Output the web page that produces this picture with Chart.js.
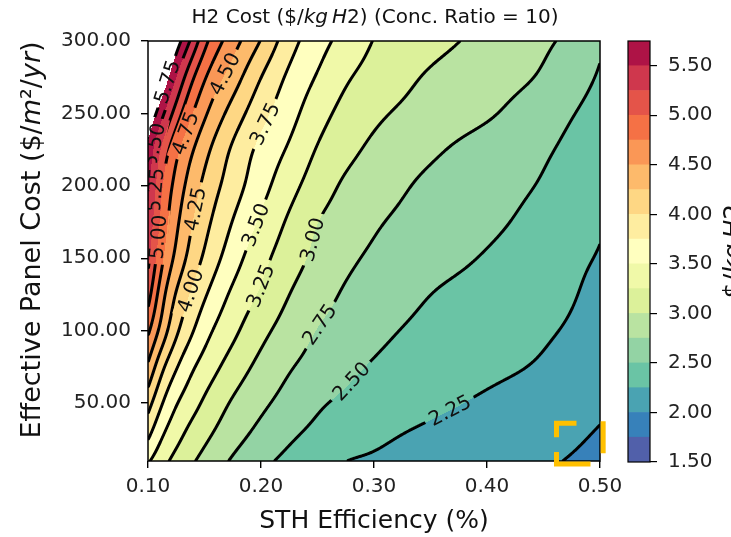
<!DOCTYPE html>
<html>
<head>
<meta charset="utf-8">
<script src="https://cdn.jsdelivr.net/npm/chart.js@4.4.1/dist/chart.umd.min.js"></script>
<style>
  html, body { margin: 0; padding: 0; background: #fff; }
  #wrap { position: relative; width: 731px; height: 537px; overflow: hidden; }
  #main { position: absolute; left: 0; top: 0; }
  #cbar { position: absolute; left: 600px; top: 0; }
</style>
</head>
<body>
<div id="wrap">
  <canvas id="main" width="731" height="537"></canvas>
  <canvas id="cbar" width="131" height="537"></canvas>
</div>
<script>
// grid the cost surface was read on (STH efficiency x panel cost)
const effGrid = [0.10, 0.1125, 0.125, 0.1375, 0.15, 0.175, 0.20, 0.225, 0.25, 0.275, 0.30, 0.35, 0.40, 0.45, 0.475, 0.50];
const costGrid = [10, 30, 50, 75, 100, 125, 150, 175, 200, 225, 250, 275, 300];
// H2 cost in $/kg, one row per panel cost value
const h2Cost = [
  [3.53, 3.33, 3.17, 3.04, 2.93, 2.72, 2.56, 2.44, 2.34, 2.25, 2.22, 2.15, 2.09, 2.02, 1.99, 1.95],
  [3.83, 3.53, 3.35, 3.19, 3.07, 2.86, 2.69, 2.55, 2.45, 2.38, 2.31, 2.21, 2.13, 2.06, 2.03, 1.99],
  [4.10, 3.75, 3.51, 3.36, 3.21, 2.97, 2.80, 2.66, 2.53, 2.46, 2.41, 2.31, 2.21, 2.12, 2.07, 2.03],
  [4.46, 4.04, 3.77, 3.55, 3.40, 3.14, 2.93, 2.77, 2.66, 2.55, 2.48, 2.40, 2.31, 2.22, 2.15, 2.08],
  [4.80, 4.39, 4.04, 3.80, 3.59, 3.31, 3.07, 2.89, 2.74, 2.65, 2.56, 2.44, 2.36, 2.28, 2.22, 2.12],
  [5.11, 4.57, 4.22, 3.98, 3.78, 3.45, 3.22, 3.00, 2.85, 2.72, 2.65, 2.50, 2.41, 2.32, 2.27, 2.17],
  [5.32, 4.77, 4.43, 4.17, 3.96, 3.61, 3.33, 3.11, 2.94, 2.80, 2.71, 2.59, 2.48, 2.36, 2.30, 2.235],
  [5.45, 4.89, 4.55, 4.28, 4.08, 3.74, 3.46, 3.21, 3.00, 2.89, 2.78, 2.66, 2.55, 2.42, 2.34, 2.27],
  [5.58, 4.99, 4.66, 4.40, 4.19, 3.87, 3.59, 3.34, 3.12, 2.96, 2.86, 2.70, 2.59, 2.48, 2.40, 2.32],
  [5.70, 5.18, 4.81, 4.55, 4.33, 3.96, 3.68, 3.47, 3.23, 3.07, 2.95, 2.79, 2.65, 2.53, 2.45, 2.37],
  [6.00, 5.56, 5.13, 4.79, 4.54, 4.15, 3.83, 3.59, 3.35, 3.17, 3.05, 2.90, 2.78, 2.61, 2.51, 2.43],
  [6.40, 5.98, 5.50, 5.08, 4.77, 4.38, 4.00, 3.70, 3.48, 3.28, 3.16, 2.97, 2.85, 2.72, 2.59, 2.48],
  [6.60, 6.27, 5.88, 5.49, 5.07, 4.61, 4.24, 3.85, 3.60, 3.41, 3.24, 3.08, 2.93, 2.79, 2.69, 2.53]
];
const levels = [1.50, 1.75, 2.00, 2.25, 2.50, 2.75, 3.00, 3.25, 3.50, 3.75, 4.00, 4.25, 4.50, 4.75, 5.00, 5.25, 5.50, 5.75];
const effTicks = [0.10, 0.20, 0.30, 0.40, 0.50];
const costTicks = [50, 100, 150, 200, 250, 300];
const cbarTicks = [1.50, 2.00, 2.50, 3.00, 3.50, 4.00, 4.50, 5.00, 5.50];
// where the inline contour labels sit: [level, eff, cost]
const labelSpots = [
  [5.75, 0.111, 273], [5.50, 0.106, 228], [5.25, 0.106, 197], [5.00, 0.104, 165],
  [4.75, 0.137, 235], [4.50, 0.171, 276], [4.25, 0.146, 183], [4.00, 0.137, 128],
  [3.75, 0.197, 245], [3.50, 0.195, 173], [3.25, 0.199, 131], [3.00, 0.246, 163],
  [2.75, 0.252, 104], [2.50, 0.279, 66], [2.25, 0.367, 45]
];

const FONT = '"DejaVu Sans", sans-serif';
const spectralR = ['#5e4fa2', '#3288bd', '#66c2a5', '#abdda4', '#e6f598', '#ffffbf',
                   '#fee08b', '#fdae61', '#f46d43', '#d53e4f', '#9e0142'];

function hexRgb(h) { return [1, 3, 5].map(k => parseInt(h.substr(k, 2), 16)); }
function cmap(t) {
  const s = t * 10, k = Math.min(9, Math.floor(s)), f = s - k;
  const a = hexRgb(spectralR[k]), b = hexRgb(spectralR[k + 1]);
  return a.map((v, n) => Math.round(v + (b[n] - v) * f));
}
const bandRgb = levels.slice(0, -1).map((_, i) => cmap((i + 0.5) / (levels.length - 1)));
const rgbStr = c => 'rgb(' + c.join(',') + ')';

function bandOf(z) {
  if (z < levels[0] || z > levels[levels.length - 1]) return -1;
  for (let i = 0; i < levels.length - 1; i++) if (z <= levels[i + 1]) return i;
  return -1;
}

// cubic hermite on uneven spacing
function slopes(xs, fs) {
  const n = xs.length, m = new Array(n);
  for (let k = 0; k < n; k++) {
    if (k === 0) m[k] = (fs[1] - fs[0]) / (xs[1] - xs[0]);
    else if (k === n - 1) m[k] = (fs[n - 1] - fs[n - 2]) / (xs[n - 1] - xs[n - 2]);
    else {
      const h0 = xs[k] - xs[k - 1], h1 = xs[k + 1] - xs[k];
      const d0 = (fs[k] - fs[k - 1]) / h0, d1 = (fs[k + 1] - fs[k]) / h1;
      m[k] = (d0 * h1 + d1 * h0) / (h0 + h1);
    }
  }
  return m;
}
function hermite(xs, fs, ms, v) {
  const n = xs.length;
  if (v <= xs[0]) return fs[0] + ms[0] * (v - xs[0]);
  if (v >= xs[n - 1]) return fs[n - 1] + ms[n - 1] * (v - xs[n - 1]);
  let k = 0;
  while (xs[k + 1] < v) k++;
  const h = xs[k + 1] - xs[k], t = (v - xs[k]) / h, t2 = t * t, t3 = t2 * t;
  return (2 * t3 - 3 * t2 + 1) * fs[k] + (t3 - 2 * t2 + t) * h * ms[k] +
         (-2 * t3 + 3 * t2) * fs[k + 1] + (t3 - t2) * h * ms[k + 1];
}
const rowSlopes = h2Cost.map(row => slopes(effGrid, row));
const columnAt = eff => h2Cost.map((row, r) => hermite(effGrid, row, rowSlopes[r], eff));

function blur(f, W, H, sigma) {
  const R = Math.ceil(sigma * 3), k = [];
  let s = 0;
  for (let d = -R; d <= R; d++) { const v = Math.exp(-d * d / (2 * sigma * sigma)); k.push(v); s += v; }
  for (let d = 0; d < k.length; d++) k[d] /= s;
  const tmp = new Float64Array(W * H), out = new Float64Array(W * H);
  for (let j = 0; j < H; j++) for (let i = 0; i < W; i++) {
    let acc = 0;
    for (let d = -R; d <= R; d++) acc += k[d + R] * f[j * W + Math.max(0, Math.min(W - 1, i + d))];
    tmp[j * W + i] = acc;
  }
  for (let j = 0; j < H; j++) for (let i = 0; i < W; i++) {
    let acc = 0;
    for (let d = -R; d <= R; d++) acc += k[d + R] * tmp[Math.max(0, Math.min(H - 1, j + d)) * W + i];
    out[j * W + i] = acc;
  }
  return out;
}

function drawRich(ctx, parts, x, y, size, rot) {
  ctx.save();
  ctx.translate(x, y);
  ctx.rotate(rot || 0);
  const fontOf = it => (it ? 'italic ' : '') + size + 'px ' + FONT;
  let total = 0;
  parts.forEach(p => { ctx.font = fontOf(p[1]); total += ctx.measureText(p[0]).width; });
  let cx = -total / 2;
  ctx.textAlign = 'left';
  ctx.textBaseline = 'middle';
  ctx.fillStyle = '#111';
  parts.forEach(p => {
    ctx.font = fontOf(p[1]);
    ctx.fillText(p[0], cx, 0);
    cx += ctx.measureText(p[0]).width;
  });
  ctx.restore();
}

function marching(zz, nx, ny, px, py, L) {
  const segs = [];
  for (let j = 0; j < ny - 1; j++) {
    for (let i = 0; i < nx - 1; i++) {
      const v0 = zz[j * nx + i], v1 = zz[j * nx + i + 1], v2 = zz[(j + 1) * nx + i + 1], v3 = zz[(j + 1) * nx + i];
      const b0 = v0 < L, b1 = v1 < L, b2 = v2 < L, b3 = v3 < L;
      if (b0 === b1 && b1 === b2 && b2 === b3) continue;
      const v = [v0, v1, v2, v3];
      const c = [[px(i), py(j)], [px(i + 1), py(j)], [px(i + 1), py(j + 1)], [px(i), py(j + 1)]];
      const pts = [];
      for (let e = 0; e < 4; e++) {
        const a = e, b = (e + 1) % 4;
        if ((v[a] < L) !== (v[b] < L)) {
          const t = (L - v[a]) / (v[b] - v[a]);
          pts.push([c[a][0] + (c[b][0] - c[a][0]) * t, c[a][1] + (c[b][1] - c[a][1]) * t]);
        }
      }
      if (pts.length === 2) segs.push([pts[0], pts[1]]);
      else if (pts.length === 4) { segs.push([pts[0], pts[1]]); segs.push([pts[2], pts[3]]); }
    }
  }
  return segs;
}

const contourPlugin = {
  id: 'contourFill',
  beforeDatasetsDraw(chart) {
    const { ctx, chartArea: a, scales: { x, y } } = chart;
    const w = Math.round(a.right - a.left), h = Math.round(a.bottom - a.top);
    // sample the surface one node per pixel, with a margin so the smoothing has room
    const M = 20, W = w + 2 * M, H = h + 2 * M;
    const costPix = [];
    for (let j = 0; j < H; j++) costPix.push(y.getValueForPixel(a.top - M + j + 0.5));
    const raw = new Float64Array(W * H);
    for (let i = 0; i < W; i++) {
      const col = columnAt(x.getValueForPixel(a.left - M + i + 0.5));
      const ms = slopes(costGrid, col);
      for (let j = 0; j < H; j++) raw[j * W + i] = hermite(costGrid, col, ms, costPix[j]);
    }
    const sm = blur(raw, W, H, 6);
    const zz = new Float64Array(w * h);
    for (let j = 0; j < h; j++) for (let i = 0; i < w; i++) zz[j * w + i] = sm[(j + M) * W + i + M];

    const off = document.createElement('canvas');
    off.width = w; off.height = h;
    const octx = off.getContext('2d');
    const img = octx.createImageData(w, h);
    for (let p = 0; p < w * h; p++) {
      const b = bandOf(zz[p]);
      const col = b < 0 ? [255, 255, 255] : bandRgb[b];
      img.data[4 * p] = col[0]; img.data[4 * p + 1] = col[1]; img.data[4 * p + 2] = col[2]; img.data[4 * p + 3] = 255;
    }
    octx.putImageData(img, 0, 0);
    ctx.drawImage(off, a.left, a.top);

    const px = i => a.left + i + 0.5, py = j => a.top + j + 0.5;
    const segsByLevel = levels.map(L => marching(zz, w, h, px, py, L));

    ctx.save();
    ctx.beginPath();
    ctx.rect(a.left, a.top, w, h);
    ctx.clip();
    ctx.strokeStyle = '#000';
    ctx.lineWidth = 3;
    ctx.lineCap = 'round';
    segsByLevel.forEach(segs => {
      ctx.beginPath();
      segs.forEach(s => { ctx.moveTo(s[0][0], s[0][1]); ctx.lineTo(s[1][0], s[1][1]); });
      ctx.stroke();
    });

    // inline labels: blank the line under the text, then write the level
    const size = 20;
    ctx.font = size + 'px ' + FONT;
    const zAt = (qx, qy) => {
      const i = Math.max(0, Math.min(w - 1, Math.round(qx - a.left - 0.5)));
      const j = Math.max(0, Math.min(h - 1, Math.round(qy - a.top - 0.5)));
      return zz[j * w + i];
    };
    labelSpots.forEach(([L, e, cst]) => {
      const segs = segsByLevel[levels.indexOf(L)];
      if (!segs || !segs.length) return;
      const ax = x.getPixelForValue(e), ay = y.getPixelForValue(cst);
      let best = null, bd = Infinity;
      segs.forEach(s => {
        const mx = (s[0][0] + s[1][0]) / 2, my = (s[0][1] + s[1][1]) / 2;
        const d = (mx - ax) ** 2 + (my - ay) ** 2;
        if (d < bd) { bd = d; best = [mx, my]; }
      });
      const [lx, ly] = best;
      const gx = zAt(lx + 3, ly) - zAt(lx - 3, ly);
      const gy = zAt(lx, ly + 3) - zAt(lx, ly - 3);
      let ang = Math.atan2(gx, -gy);
      if (ang > Math.PI / 2) ang -= Math.PI;
      if (ang <= -Math.PI / 2) ang += Math.PI;
      const text = L.toFixed(2);
      const tw = ctx.measureText(text).width;
      ctx.save();
      ctx.translate(lx, ly);
      ctx.rotate(ang);
      ctx.beginPath();
      ctx.rect(-tw / 2 - 5, -size * 0.5, tw + 10, size);
      ctx.rotate(-ang);
      ctx.translate(-lx, -ly);
      ctx.clip();
      ctx.drawImage(off, a.left, a.top);
      ctx.restore();
      ctx.save();
      ctx.translate(lx, ly);
      ctx.rotate(ang);
      ctx.fillStyle = '#111';
      ctx.textAlign = 'center';
      ctx.textBaseline = 'middle';
      ctx.fillText(text, 0, 1);
      ctx.restore();
    });
    ctx.restore();

    ctx.save();
    ctx.strokeStyle = '#000';
    ctx.lineWidth = 1.5;
    ctx.strokeRect(a.left, a.top, w, h);
    ctx.restore();
  },
  afterDraw(chart) {
    const { ctx, scales: { x, y } } = chart;
    drawRich(ctx, [['H2 Cost (', false], ['$/', false], ['kg', true], ['\u2009', false], ['H', true],
                   ['2', false], [') (Conc. Ratio = 10)', false]], 375, 18, 20, 0);
    drawRich(ctx, [['STH Efficiency (%)', false]], 374, 521, 25, 0);
    drawRich(ctx, [['Effective Panel Cost (', false], ['$/', false], ['m', true], ['\u00b2', false],
                   ['/', false], ['yr', true], [')', false]], 33, 240, 27, -Math.PI / 2);

    // highlight brackets in the lower right corner
    const l = x.getPixelForValue(0.4615), r = x.getPixelForValue(0.5028);
    const t = y.getPixelForValue(36), b = y.getPixelForValue(8);
    ctx.save();
    ctx.strokeStyle = '#ffc000';
    ctx.lineWidth = 5;
    ctx.lineCap = 'butt';
    ctx.beginPath();
    ctx.moveTo(l + 20, t); ctx.lineTo(l, t); ctx.lineTo(l, t + 14);
    ctx.moveTo(l, b - 12); ctx.lineTo(l, b); ctx.lineTo(l + 34, b);
    ctx.moveTo(r, t - 2); ctx.lineTo(r, t + 30);
    ctx.stroke();
    ctx.restore();
  }
};

const tickFont = { family: FONT, size: 20 };

new Chart(document.getElementById('main'), {
  type: 'scatter',
  data: { datasets: [] },
  options: {
    responsive: false,
    devicePixelRatio: 1,
    animation: false,
    layout: { padding: { left: 0, right: 131, top: 41, bottom: 0 } },
    plugins: { legend: { display: false }, tooltip: { enabled: false } },
    scales: {
      x: {
        type: 'linear', min: 0.10, max: 0.50,
        afterBuildTicks: s => { s.ticks = effTicks.map(v => ({ value: v })); },
        afterFit: s => { s.height = 76; },
        ticks: { font: tickFont, color: '#222', padding: 7, maxRotation: 0, autoSkip: false,
                 callback: v => Number(v).toFixed(2) },
        grid: { drawOnChartArea: false, drawTicks: true, tickLength: 7, color: '#000', lineWidth: 1.4 },
        border: { display: false }
      },
      y: {
        type: 'linear', min: 10, max: 300,
        afterBuildTicks: s => { s.ticks = costTicks.map(v => ({ value: v })); },
        afterFit: s => { s.width = 148; },
        ticks: { font: tickFont, color: '#222', padding: 10, autoSkip: false,
                 callback: v => Number(v).toFixed(2) },
        grid: { drawOnChartArea: false, drawTicks: true, tickLength: 7, color: '#000', lineWidth: 1.4 },
        border: { display: false }
      }
    }
  },
  plugins: [contourPlugin]
});

const cbarFrame = {
  id: 'cbarFrame',
  afterDatasetsDraw(chart) {
    const { ctx, chartArea: a } = chart;
    ctx.save();
    ctx.strokeStyle = '#000';
    ctx.lineWidth = 1.2;
    ctx.strokeRect(a.left, a.top, a.right - a.left, a.bottom - a.top);
    ctx.restore();
  },
  afterDraw(chart) {
    drawRich(chart.ctx, [['$/', false], ['kg', true], ['\u2009', false], ['H', true], ['2', false]],
             134, 251, 25, -Math.PI / 2);
  }
};

new Chart(document.getElementById('cbar'), {
  type: 'bar',
  data: {
    labels: ['H2 cost'],
    datasets: levels.slice(0, -1).map((lo, i) => ({
      data: [[lo, levels[i + 1]]],
      backgroundColor: rgbStr(bandRgb[i]),
      borderWidth: 0,
      barPercentage: 1,
      categoryPercentage: 1,
      grouped: false
    }))
  },
  options: {
    responsive: false,
    devicePixelRatio: 1,
    animation: false,
    layout: { padding: { left: 28, right: 0, top: 41, bottom: 75 } },
    plugins: { legend: { display: false }, tooltip: { enabled: false } },
    scales: {
      x: { display: false },
      y: {
        position: 'right', min: 1.5, max: 5.75,
        afterBuildTicks: s => { s.ticks = cbarTicks.map(v => ({ value: v })); },
        afterFit: s => { s.width = 81; },
        ticks: { font: tickFont, color: '#222', padding: 11, autoSkip: false,
                 callback: v => Number(v).toFixed(2) },
        grid: { drawOnChartArea: false, drawTicks: true, tickLength: 7, color: '#000', lineWidth: 1.2 },
        border: { display: false }
      }
    }
  },
  plugins: [cbarFrame]
});
</script>
</body>
</html>
